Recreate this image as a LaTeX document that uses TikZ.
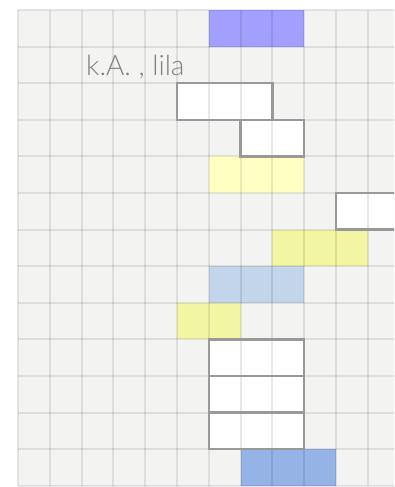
\documentclass[tikz,border=0pt]{standalone}
\usepackage{fontspec}
\setmainfont{Lato}
\newfontfamily\lightfont{Lato Light}
\definecolor{cellbg}{HTML}{F3F3F2}
\definecolor{purplec}{HTML}{A39FFF}
\definecolor{lyellow}{HTML}{FFFFC2}
\definecolor{ygreen}{HTML}{F2F5A2}
\definecolor{lblue}{HTML}{C2D5EA}
\definecolor{bluec}{HTML}{95B3E6}
\definecolor{outl}{HTML}{999999}
\definecolor{txtgray}{HTML}{808080}
\def\W{31.8}
\def\H{36.6}
\tikzset{
  blk/.style={inner sep=0pt, outer sep=0pt, minimum height=\H pt, anchor=north west, draw=none},
  gridline/.style={draw=black, draw opacity=0.09, line width=2pt},
  outline/.style={draw=outl, line width=2.4pt},
  lbl/.style={font=\lightfont\fontsize{28}{30}\selectfont, text=txtgray, inner sep=0pt, anchor=base west}
}
\newcommand\myblk[5]{%
  \node[blk, fill=#5, minimum width={#4*\W pt}] (#1) at ({18+#2*\W},{10+#3*\H}) {};}
\begin{document}
\begin{tikzpicture}[x=1pt,y=-1pt]
\useasboundingbox (0,0) rectangle (394,487);
\fill[white] (0,0) rectangle (394,487);
\begin{scope}
\clip (0,0) rectangle (394,487);
\fill[cellbg] (18,10) rectangle ({18+12*\W},{10+13*\H});
\myblk{p}{6}{0}{3}{purplec}
\myblk{w1}{5}{2}{3}{white}
\myblk{w2}{7}{3}{2}{white}
\myblk{y1}{6}{4}{3}{lyellow}
\myblk{w3}{10}{5}{2}{white}
\myblk{y2}{8}{6}{3}{ygreen}
\myblk{b1}{6}{7}{3}{lblue}
\myblk{y3}{5}{8}{2}{ygreen}
\myblk{w4}{6}{9}{3}{white}
\myblk{w5}{6}{10}{3}{white}
\myblk{w6}{6}{11}{3}{white}
\myblk{b2}{7}{12}{3}{bluec}
\foreach \i in {0,...,12}
  \draw[gridline] ({18+\i*\W},10) -- ({18+\i*\W},{10+13*\H});
\foreach \j in {0,...,13}
  \draw[gridline] (18,{10+\j*\H}) -- (400,{10+\j*\H});
\foreach \n in {w1,w2,w3,w4,w5,w6}
  \draw[outline] (\n.north west) rectangle (\n.south east);
\end{scope}
\node[lbl] (t) at (86,75) {k.A. , lila};
\end{tikzpicture}
\end{document}
